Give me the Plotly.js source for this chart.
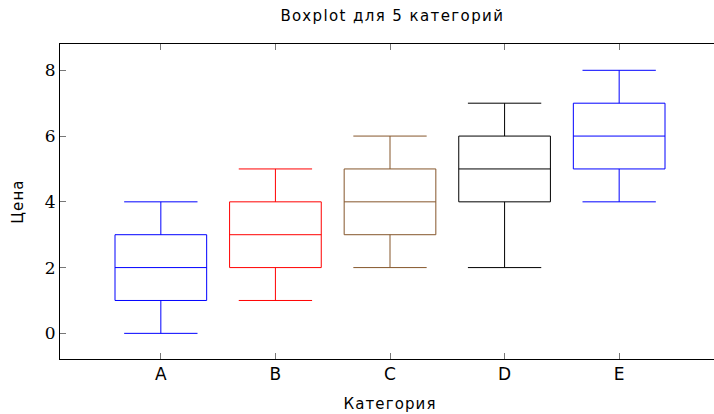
<!DOCTYPE html>
<html>
<head>
<meta charset="utf-8">
<script src="https://cdn.plot.ly/plotly-3.0.1.min.js"></script>
<style>
html,body{margin:0;padding:0;overflow:hidden;background:#fff;}
#chart{width:720px;height:414px;}
#chart .gtitle{letter-spacing:1.4px;}
#chart .xtitle,#chart .ytitle{letter-spacing:1.1px;}
</style>
</head>
<body>
<div id="chart"></div>
<script>
const categories = ['A','B','C','D','E'];
const lowerWhisker = [0, 1, 2, 2, 4];
const q1Values = [1, 2, 3, 4, 5];
const medianValues = [2, 3, 4, 5, 6];
const q3Values = [3, 4, 5, 6, 7];
const upperWhisker = [4, 5, 6, 7, 8];
const boxColors = ['#0000ff', '#ff0000', '#85562b', '#000000', '#0000ff'];
const yTickValues = [0, 2, 4, 6, 8];

const traces = categories.map((c, i) => ({
  type: 'box',
  x: [c],
  q1: [q1Values[i]],
  median: [medianValues[i]],
  q3: [q3Values[i]],
  lowerfence: [lowerWhisker[i]],
  upperfence: [upperWhisker[i]],
  width: 0.8,
  whiskerwidth: 0.8,
  line: {color: boxColors[i], width: 1},
  fillcolor: 'rgba(0,0,0,0)',
  boxpoints: false,
  showlegend: false,
  hoverinfo: 'skip'
}));

const sans = 'DejaVu Sans';
const serif = '"DejaVu Serif", "Liberation Serif", serif';

const layout = {
  width: 720,
  height: 414,
  margin: {l: 60, r: 0, t: 44, b: 55, pad: 0},
  paper_bgcolor: '#fff',
  plot_bgcolor: '#fff',
  boxmode: 'overlay',
  title: {text: 'Boxplot для 5 категорий', font: {family: sans, size: 15, color: '#000'}, x: 0.545, xanchor: 'center', y: 0.963, yanchor: 'middle'},
  xaxis: {
    type: 'category',
    categoryorder: 'array',
    categoryarray: categories,
    range: [-0.88, 4.88],
    showline: true, linecolor: '#000', linewidth: 1, mirror: 'ticks',
    ticks: 'inside', ticklen: 6, tickcolor: '#777', tickwidth: 1,
    showgrid: false, zeroline: false,
    tickfont: {family: sans, size: 17, color: '#000'},
    title: {text: 'Категория', font: {family: sans, size: 15, color: '#000'}, standoff: 15}
  },
  yaxis: {
    range: [-0.78, 8.8],
    tickvals: yTickValues,
    ticktext: yTickValues.map(String),
    showline: true, linecolor: '#000', linewidth: 1, mirror: 'ticks',
    ticks: 'inside', ticklen: 6, tickcolor: '#777', tickwidth: 1,
    showgrid: false, zeroline: false,
    tickfont: {family: serif, size: 17, color: '#000'},
    title: {text: 'Цена', font: {family: sans, size: 15, color: '#000'}, standoff: 17}
  }
};

Plotly.newPlot('chart', traces, layout, {displayModeBar: false, staticPlot: true});
</script>
</body>
</html>
